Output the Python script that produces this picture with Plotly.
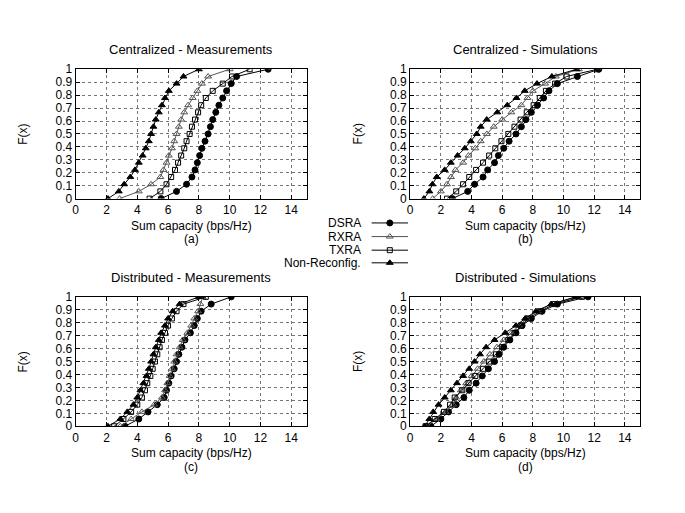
import plotly.graph_objects as go

# CDF levels (19 samples)
F_levels = [0.0, 0.056, 0.111, 0.167, 0.222, 0.278, 0.333, 0.389, 0.444, 0.5,
            0.556, 0.611, 0.667, 0.722, 0.778, 0.833, 0.889, 0.944, 1.0]

series_names = ["DSRA", "RXRA", "TXRA", "Non-Reconfig."]
panel_titles = ["Centralized - Measurements", "Centralized - Simulations",
                "Distributed - Measurements", "Distributed - Simulations"]
panel_letters = ["(a)", "(b)", "(c)", "(d)"]
x_tick_vals = [0, 2, 4, 6, 8, 10, 12, 14]
y_tick_vals = [0, 0.1, 0.2, 0.3, 0.4, 0.5, 0.6, 0.7, 0.8, 0.9, 1.0]

# (a) Centralized - Measurements
a_dsra = [5.55, 6.55, 7.2, 7.55, 7.75, 7.9, 8.05, 8.2, 8.4, 8.6, 8.75, 8.9, 9.1, 9.3, 9.55, 9.8, 10.1, 10.45, 12.5]
a_rxra = [2.85, 4.1, 4.9, 5.5, 5.7, 5.9, 6.05, 6.25, 6.4, 6.55, 6.7, 6.85, 7.05, 7.3, 7.6, 7.9, 8.2, 8.6, 10.0]
a_txra = [4.8, 5.5, 5.9, 6.2, 6.45, 6.65, 6.85, 7.05, 7.2, 7.4, 7.55, 7.75, 7.95, 8.15, 8.45, 8.9, 9.55, 10.15, 11.3]
a_nonr = [2.1, 2.8, 3.15, 3.55, 3.85, 4.1, 4.35, 4.55, 4.75, 4.9, 5.05, 5.2, 5.4, 5.6, 5.8, 6.05, 6.55, 7.0, 8.0]

# (b) Centralized - Simulations
b_dsra = [2.75, 3.75, 4.2, 4.75, 5.05, 5.5, 5.75, 6.1, 6.45, 6.9, 7.25, 7.55, 7.9, 8.3, 8.7, 9.05, 9.6, 10.9, 12.3]
b_rxra = [1.47, 2.0, 2.4, 2.66, 2.95, 3.45, 3.8, 4.25, 4.6, 5.0, 5.45, 6.0, 6.6, 7.25, 7.65, 8.0, 8.8, 9.5, 11.0]
b_txra = [2.4, 3.0, 3.45, 3.85, 4.3, 4.75, 5.15, 5.55, 5.95, 6.4, 6.8, 7.2, 7.6, 8.05, 8.45, 8.85, 9.45, 10.2, 12.2]
b_nonr = [0.89, 1.25, 1.45, 1.73, 2.25, 2.65, 3.09, 3.56, 3.95, 4.34, 4.6, 4.99, 5.68, 6.33, 6.93, 7.47, 8.27, 9.24, 10.86]

# (c) Distributed - Measurements
c_dsra = [3.2, 4.1, 4.7, 5.3, 5.75, 5.9, 6.05, 6.2, 6.4, 6.55, 6.7, 6.9, 7.1, 7.45, 7.7, 7.9, 8.15, 8.8, 10.1]
c_rxra = [2.9, 3.6, 4.3, 5.1, 5.6, 5.8, 5.95, 6.1, 6.25, 6.4, 6.55, 6.75, 6.95, 7.25, 7.5, 7.7, 7.95, 8.1, 8.25]
c_txra = [2.5, 3.1, 3.6, 4.0, 4.3, 4.5, 4.65, 4.85, 5.0, 5.15, 5.3, 5.45, 5.6, 5.8, 6.0, 6.25, 6.55, 7.0, 8.45]
c_nonr = [2.1, 2.9, 3.35, 3.75, 4.0, 4.2, 4.4, 4.6, 4.75, 4.9, 5.05, 5.2, 5.4, 5.55, 5.8, 6.0, 6.3, 6.75, 8.0]

# (d) Distributed - Simulations
d_dsra = [1.35, 2.0, 2.5, 3.0, 3.5, 3.85, 4.3, 4.7, 5.1, 5.5, 5.8, 6.1, 6.5, 6.9, 7.3, 7.9, 8.6, 9.6, 11.6]
d_rxra = [1.1, 1.7, 2.3, 2.8, 3.0, 3.3, 3.65, 4.0, 4.4, 4.8, 5.2, 5.65, 6.1, 6.6, 7.1, 7.6, 8.3, 9.2, 10.9]
d_txra = [1.0, 1.6, 2.2, 2.6, 2.9, 3.4, 3.8, 4.25, 4.75, 5.15, 5.6, 6.0, 6.4, 6.8, 7.25, 7.7, 8.5, 9.4, 11.2]
d_nonr = [0.95, 1.25, 1.5, 1.85, 2.25, 2.65, 3.05, 3.45, 3.85, 4.2, 4.55, 4.95, 5.5, 6.2, 6.9, 7.5, 8.2, 9.2, 10.8]

panels = [
    [a_dsra, a_rxra, a_txra, a_nonr],
    [b_dsra, b_rxra, b_txra, b_nonr],
    [c_dsra, c_rxra, c_txra, c_nonr],
    [d_dsra, d_rxra, d_txra, d_nonr],
]

W, H = 685, 513
styles = [
    dict(symbol="circle", size=6, color="black", line_color="black"),
    dict(symbol="triangle-up-open", size=6, color="#555555", line_color="#555555"),
    dict(symbol="square-open", size=5, color="black", line_color="black"),
    dict(symbol="triangle-up", size=6, color="black", line_color="black"),
]

# pixel layout of panels (left, right, top, bottom)
px_boxes = [(73, 305, 64, 197), (409, 640, 64, 197), (73, 305, 298, 431), (409, 640, 298, 431)]

fig = go.Figure()
FONT = "Liberation Sans, Arial, sans-serif"


def ann(xpx, ypx, text, size=12, xanchor="center", angle=0):
    fig.add_annotation(x=xpx / W, y=1 - ypx / H, xref="paper", yref="paper", text=text,
                       xanchor=xanchor, yanchor="middle", textangle=angle, showarrow=False,
                       font=dict(family=FONT, size=size, color="black"))


for i, (series_list, box) in enumerate(zip(panels, px_boxes)):
    xa = "x" if i == 0 else f"x{i+1}"
    ya = "y" if i == 0 else f"y{i+1}"
    for s_idx, xs in enumerate(series_list):
        st = styles[s_idx]
        fig.add_trace(go.Scatter(
            x=xs, y=F_levels, mode="lines+markers", xaxis=xa, yaxis=ya,
            name=series_names[s_idx], showlegend=False,
            line=dict(color=st["line_color"], width=1),
            marker=dict(symbol=st["symbol"], size=st["size"], color=st["color"],
                        line=dict(color=st["line_color"], width=1)),
        ))
    l, r, t, b = box
    xdom = [l / W, r / W]
    ydom = [1 - b / H, 1 - t / H]
    axis_common = dict(showline=True, linecolor="black", linewidth=1, mirror="ticks",
                       ticks="inside", ticklen=4, tickcolor="black",
                       showgrid=True, gridcolor="#777777", griddash="dot", gridwidth=1,
                       zeroline=False, tickfont=dict(family=FONT, size=12, color="black"))
    xkey = "xaxis" if i == 0 else f"xaxis{i+1}"
    ykey = "yaxis" if i == 0 else f"yaxis{i+1}"
    fig.update_layout(**{
        xkey: dict(domain=xdom, range=[0, 15], tickvals=x_tick_vals, anchor=ya, **axis_common),
        ykey: dict(domain=ydom, range=[0, 1], tickvals=y_tick_vals, anchor=xa, **axis_common),
    })
    cx = (l + r) / 2
    ann(cx, t - 20, panel_titles[i], size=13)
    ann(cx, b + 28, "Sum capacity (bps/Hz)")
    ann(cx, b + 42, panel_letters[i])
    ann(l - 53, (t + b) / 2, "F(x)", angle=-90)

# custom legend (text left, sample right)
leg_ypx = [222, 236, 250, 263]
leg_x0, leg_x1 = 370, 407
ytop_px, ybot_px = 215, 270
fig.update_layout(
    xaxis5=dict(domain=[leg_x0 / W, leg_x1 / W], range=[0, 1], visible=False, anchor="y5"),
    yaxis5=dict(domain=[1 - ybot_px / H, 1 - ytop_px / H], range=[0, 1], visible=False, anchor="x5"),
)
for s_idx, ypx in enumerate(leg_ypx):
    yv = (ybot_px - ypx) / (ybot_px - ytop_px)
    st = styles[s_idx]
    fig.add_trace(go.Scatter(x=[0, 1], y=[yv, yv], mode="lines", xaxis="x5", yaxis="y5",
                             showlegend=False, line=dict(color=st["line_color"], width=1)))
    fig.add_trace(go.Scatter(x=[0.5], y=[yv], mode="markers", xaxis="x5", yaxis="y5",
                             showlegend=False,
                             marker=dict(symbol=st["symbol"], size=st["size"], color=st["color"],
                                         line=dict(color=st["line_color"], width=1))))
    ann(362, ypx, series_names[s_idx], xanchor="right")

fig.update_layout(width=W, height=H, margin=dict(l=0, r=0, t=0, b=0),
                  paper_bgcolor="white", plot_bgcolor="white", showlegend=False)
fig.write_html("out.html", config={"displayModeBar": False},
               post_script="document.body.style.margin='0';")
